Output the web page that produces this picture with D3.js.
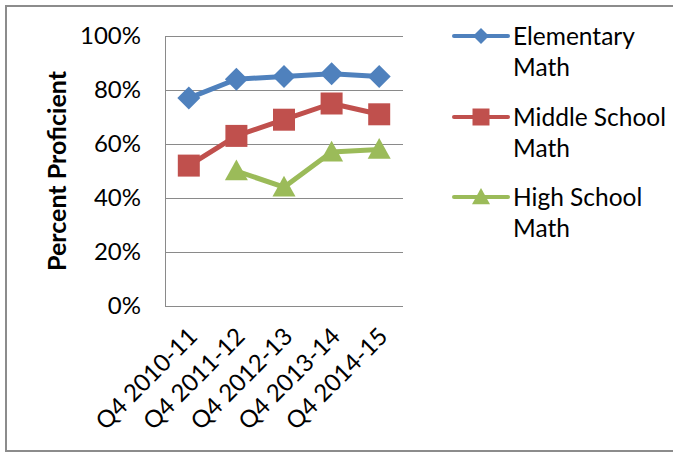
<!DOCTYPE html>
<html>
<head>
<meta charset="utf-8">
<script src="https://cdn.jsdelivr.net/npm/d3@7"></script>
<style>
  html, body { margin: 0; padding: 0; background: #fff; }
  svg { display: block; }
  text { font-family: Lato, "Open Sans", sans-serif; fill: #000; }
</style>
</head>
<body>
<svg id="chart" width="673" height="453"></svg>
<script>
// Proficiency by school level, fourth quarter of each school year
const quarters = ["Q4 2010-11", "Q4 2011-12", "Q4 2012-13", "Q4 2013-14", "Q4 2014-15"];
const elementaryMath = [77, 84, 85, 86, 85];
const middleSchoolMath = [52, 63, 69, 75, 71];
const highSchoolMath = [null, 50, 44, 57, 58];
const yTicks = [0, 20, 40, 60, 80, 100];

const series = [
  { name: ["Elementary", "Math"], values: elementaryMath, color: "#4F81BD", shape: "diamond" },
  { name: ["Middle School", "Math"], values: middleSchoolMath, color: "#C0504D", shape: "square" },
  { name: ["High School", "Math"], values: highSchoolMath, color: "#9BBB59", shape: "triangle" }
];

const svg = d3.select("#chart");
const W = 673, H = 453;
const plot = { left: 165, right: 403, top: 36, bottom: 306 };

// chart frame
svg.append("rect")
  .attr("x", 6).attr("y", 6)
  .attr("width", W + 20).attr("height", 445)
  .attr("fill", "#fff").attr("stroke", "#8c8c8c").attr("stroke-width", 2);

const x = d3.scaleBand().domain(quarters).range([plot.left, plot.right]);
const y = d3.scaleLinear().domain([0, 100]).range([plot.bottom, plot.top]);

// horizontal gridlines
svg.append("g").selectAll("line").data(yTicks).join("line")
  .attr("x1", plot.left).attr("x2", plot.right)
  .attr("y1", d => y(d)).attr("y2", d => y(d))
  .attr("stroke", "#8a8a8a").attr("stroke-width", 1)
  .attr("shape-rendering", "crispEdges");

// y axis
const yAxis = svg.append("g")
  .attr("transform", `translate(${plot.left},0)`)
  .call(d3.axisLeft(y).tickValues(yTicks).tickSize(0).tickPadding(24).tickFormat(d => d + "%"));
yAxis.select(".domain").attr("stroke", "#8a8a8a").attr("shape-rendering", "crispEdges");
yAxis.selectAll("text")
  .style("font-family", "Lato, sans-serif").style("font-size", "24px").attr("fill", "#000");

// x axis with rotated labels
const xAxis = svg.append("g")
  .attr("transform", `translate(0,${plot.bottom})`)
  .call(d3.axisBottom(x).tickSize(0).tickPadding(0));
xAxis.select(".domain").remove();
xAxis.selectAll("text")
  .style("font-family", "Lato, sans-serif").style("font-size", "24px").attr("fill", "#000")
  .attr("text-anchor", "end")
  .attr("dy", null)
  .attr("transform", "translate(10,32) rotate(-45)");

// y axis title
svg.append("text")
  .attr("transform", `translate(66,171) rotate(-90)`)
  .attr("text-anchor", "middle")
  .style("font-size", "25px").style("font-weight", "bold")
  .text("Percent Proficient");

function marker(shape, size) {
  if (shape === "diamond") {
    const r = size / 2;
    return `M0,${-r}L${r},0L0,${r}L${-r},0Z`;
  }
  if (shape === "square") {
    const r = size / 2;
    return `M${-r},${-r}H${r}V${r}H${-r}Z`;
  }
  const w = size / 2, h = size * 0.9;
  return `M0,${-h * 0.55}L${w},${h * 0.45}L${-w},${h * 0.45}Z`;
}

const markerSize = { diamond: 23, square: 22, triangle: 23 };
const legendMarkerSize = { diamond: 16, square: 17, triangle: 18 };

const line = d3.line()
  .defined(d => d.v != null)
  .x(d => x(d.q) + x.bandwidth() / 2)
  .y(d => y(d.v));

series.forEach(s => {
  const pts = quarters.map((q, i) => ({ q, v: s.values[i] }));
  svg.append("path")
    .datum(pts)
    .attr("d", line)
    .attr("fill", "none")
    .attr("stroke", s.color)
    .attr("stroke-width", 5)
    .attr("stroke-linejoin", "round")
    .attr("stroke-linecap", "round");
  svg.append("g").selectAll("path").data(pts.filter(d => d.v != null)).join("path")
    .attr("transform", d => `translate(${x(d.q) + x.bandwidth() / 2},${y(d.v)})`)
    .attr("d", marker(s.shape, markerSize[s.shape]))
    .attr("fill", s.color);
});

// legend
const legendY = [36, 117, 197];
series.forEach((s, i) => {
  const g = svg.append("g").attr("transform", `translate(0,${legendY[i]})`);
  g.append("line")
    .attr("x1", 454).attr("x2", 508)
    .attr("stroke", s.color).attr("stroke-width", 4).attr("stroke-linecap", "round");
  g.append("path")
    .attr("transform", "translate(481,0)")
    .attr("d", marker(s.shape, legendMarkerSize[s.shape]))
    .attr("fill", s.color);
  const t = g.append("text")
    .attr("x", 513).attr("y", 0)
    .style("font-size", "24.5px");
  s.name.forEach((n, j) => {
    t.append("tspan").attr("x", 513).attr("dy", j === 0 ? "0.35em" : 31).text(n);
  });
});
</script>
</body>
</html>
